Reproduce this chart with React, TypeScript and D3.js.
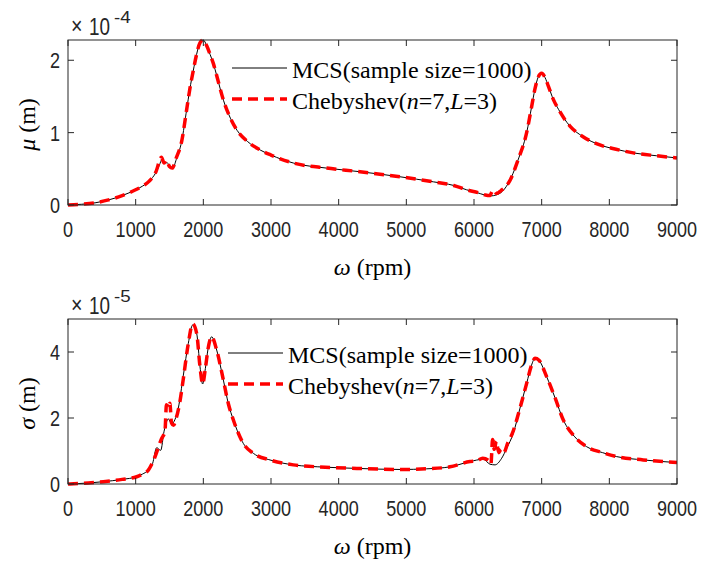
import React from "react";
import * as d3 from "d3";

// ---- Data (mu in 1e-4 m, sigma in 1e-5 m) ----
const omegaMuMCS = [0, 200, 400, 600, 800, 1000, 1100, 1200, 1300, 1350, 1390, 1430, 1470, 1510, 1550, 1600, 1680, 1754, 1800, 1850, 1900, 1950, 2000, 2050, 2100, 2150, 2200, 2300, 2400, 2500, 2650, 2840, 3000, 3330, 3820, 4315, 4906, 5400, 5700, 5891, 6050, 6150, 6236, 6335, 6450, 6550, 6650, 6778, 6850, 6900, 6950, 7000, 7050, 7100, 7172, 7250, 7418, 7600, 7861, 8100, 8354, 8700, 9000];
const muMCS = [0, 0.01, 0.03, 0.07, 0.13, 0.21, 0.26, 0.33, 0.45, 0.55, 0.63, 0.59, 0.58, 0.54, 0.51, 0.63, 0.88, 1.32, 1.6, 1.85, 2.08, 2.24, 2.28, 2.2, 2.08, 1.95, 1.78, 1.44, 1.2, 1.03, 0.88, 0.76, 0.69, 0.58, 0.51, 0.46, 0.39, 0.32, 0.27, 0.21, 0.17, 0.14, 0.125, 0.14, 0.22, 0.38, 0.62, 1.0, 1.35, 1.6, 1.77, 1.82, 1.76, 1.64, 1.46, 1.32, 1.09, 0.95, 0.83, 0.77, 0.72, 0.68, 0.65];

const omegaMuCheb = [0, 200, 400, 600, 800, 1000, 1100, 1200, 1300, 1380, 1420, 1455, 1500, 1540, 1600, 1680, 1754, 1800, 1850, 1900, 1950, 2000, 2050, 2100, 2150, 2200, 2300, 2400, 2500, 2650, 2840, 3000, 3330, 3820, 4315, 4906, 5400, 5700, 5891, 6064, 6163, 6230, 6286, 6335, 6400, 6532, 6650, 6778, 6850, 6900, 6950, 7000, 7050, 7100, 7172, 7250, 7418, 7600, 7861, 8100, 8354, 8700, 9000];
const muCheb = [0, 0.01, 0.03, 0.07, 0.13, 0.21, 0.26, 0.33, 0.46, 0.66, 0.58, 0.62, 0.53, 0.51, 0.65, 0.88, 1.32, 1.6, 1.85, 2.08, 2.24, 2.28, 2.2, 2.08, 1.95, 1.78, 1.44, 1.2, 1.03, 0.88, 0.76, 0.69, 0.58, 0.51, 0.46, 0.39, 0.32, 0.27, 0.21, 0.17, 0.14, 0.13, 0.21, 0.16, 0.2, 0.34, 0.62, 1.0, 1.35, 1.6, 1.77, 1.82, 1.76, 1.64, 1.46, 1.32, 1.09, 0.95, 0.83, 0.77, 0.72, 0.68, 0.65];

const omegaSigMCS = [0, 300, 522, 800, 1015, 1100, 1187, 1250, 1310, 1370, 1420, 1483, 1530, 1580, 1630, 1705, 1778, 1842, 1902, 1951, 1990, 2030, 2070, 2123, 2197, 2296, 2369, 2444, 2591, 2739, 3000, 3330, 3800, 4315, 4906, 5300, 5645, 5941, 6138, 6236, 6310, 6409, 6483, 6581, 6680, 6778, 6850, 6901, 6960, 7074, 7200, 7320, 7480, 7665, 7900, 8108, 8500, 9000];
const sigMCS = [0, 0.03, 0.07, 0.14, 0.22, 0.3, 0.42, 0.62, 1.1, 1.02, 1.6, 1.97, 1.82, 1.95, 2.3, 3.3, 4.26, 4.82, 4.56, 3.55, 3.03, 3.5, 4.1, 4.46, 4.06, 3.15, 2.44, 1.94, 1.23, 0.93, 0.72, 0.58, 0.51, 0.47, 0.44, 0.46, 0.52, 0.68, 0.75, 0.6, 0.58, 0.78, 1.08, 1.54, 2.3, 3.05, 3.6, 3.81, 3.75, 3.25, 2.6, 1.94, 1.45, 1.13, 0.95, 0.83, 0.73, 0.65];

const omegaSigCheb = [0, 300, 522, 800, 1015, 1100, 1187, 1261, 1384, 1433, 1455, 1480, 1505, 1530, 1560, 1600, 1650, 1705, 1778, 1842, 1902, 1951, 1990, 2030, 2070, 2123, 2197, 2296, 2369, 2444, 2591, 2739, 3000, 3330, 3800, 4315, 4906, 5300, 5645, 5941, 6040, 6128, 6212, 6250, 6275, 6300, 6330, 6365, 6400, 6440, 6500, 6560, 6680, 6778, 6850, 6901, 6960, 7074, 7200, 7320, 7480, 7665, 7900, 8108, 8500, 9000];
const sigCheb = [0, 0.03, 0.07, 0.14, 0.22, 0.3, 0.42, 0.7, 1.38, 1.6, 2.4, 2.3, 2.45, 1.85, 1.78, 2.0, 2.45, 3.2, 4.26, 4.85, 4.56, 3.55, 3.03, 3.5, 4.1, 4.46, 4.06, 3.15, 2.44, 1.94, 1.23, 0.93, 0.72, 0.58, 0.51, 0.47, 0.44, 0.46, 0.52, 0.68, 0.7, 0.78, 0.72, 0.6, 1.35, 1.05, 1.3, 0.95, 1.05, 0.95, 1.25, 1.5, 2.3, 3.05, 3.6, 3.81, 3.75, 3.25, 2.6, 1.94, 1.45, 1.13, 0.95, 0.83, 0.73, 0.65];

const xTicks = [0, 1000, 2000, 3000, 4000, 5000, 6000, 7000, 8000, 9000];
const muTicks = [0, 1, 2];
const sigTicks = [0, 2, 4];
const legendMCS = "MCS(sample size=1000)";

const W = 705;
const H = 561;
const AX_L = 68;
const AX_R = 677;
const TICK = 6;
const SANS = "'Liberation Sans', Arial, Helvetica, sans-serif";
const SERIF = "'Liberation Serif', 'Times New Roman', serif";
const AXCOL = "#262626";

function SansText({ x, y, anchor = "middle", size = 22, sx = 0.82, children }: any) {
  return (
    <g transform={`translate(${x},${y}) scale(${sx},1)`}>
      <text x={0} y={0} textAnchor={anchor} fontFamily={SANS} fontSize={size} fill={AXCOL}>
        {children}
      </text>
    </g>
  );
}

function Panel({ top, bottom, yMax, yTicks, exp, sym, xs1, ys1, xs2, ys2, legY, legX, id }: any) {
  const x = d3.scaleLinear().domain([0, 9000]).range([AX_L, AX_R]);
  const y = d3.scaleLinear().domain([0, yMax]).range([bottom, top]);
  const mk = (xs: number[], ys: number[]) =>
    d3
      .line<number>()
      .x((d) => x(d))
      .y((_, i) => y(ys[i]))
      .curve(d3.curveMonotoneX)(xs) as string;
  return (
    <g>
      <defs>
        <clipPath id={id}>
          <rect x={AX_L} y={top - 2} width={AX_R - AX_L} height={bottom - top + 4} />
        </clipPath>
      </defs>
      <g clipPath={`url(#${id})`}>
        <path d={mk(xs1, ys1)} fill="none" stroke="#000" strokeWidth={1} />
        <path d={mk(xs2, ys2)} fill="none" stroke="#ff0000" strokeWidth={3.5} strokeDasharray="10,6" />
      </g>
      <rect x={AX_L} y={top} width={AX_R - AX_L} height={bottom - top} fill="none" stroke={AXCOL} strokeWidth={1} />
      {xTicks.map((t) => (
        <g key={"xt" + t}>
          <line x1={x(t)} x2={x(t)} y1={bottom} y2={bottom - TICK} stroke={AXCOL} />
          <line x1={x(t)} x2={x(t)} y1={top} y2={top + TICK} stroke={AXCOL} />
          <SansText x={x(t)} y={bottom + 32}>{t}</SansText>
        </g>
      ))}
      {yTicks.map((t: number) => (
        <g key={"yt" + t}>
          <line x1={AX_L} x2={AX_L + TICK} y1={y(t)} y2={y(t)} stroke={AXCOL} />
          <line x1={AX_R} x2={AX_R - TICK} y1={y(t)} y2={y(t)} stroke={AXCOL} />
          <SansText x={60} y={y(t) + 8} anchor="end">{t}</SansText>
        </g>
      ))}
      {/* exponent */}
      <SansText x={71} y={top - 6} anchor="start" size={24}>
        {"\u00d7"}
      </SansText>
      <SansText x={89} y={top - 5} anchor="start" size={23}>
        {"10"}
      </SansText>
      <SansText x={114} y={top - 17} anchor="start" size={17} sx={1.1}>
        {exp}
      </SansText>
      {/* x label */}
      <text x={(AX_L + AX_R) / 2} y={bottom + 70} textAnchor="middle" fontFamily={SERIF} fontSize={24} fill="#000">
        <tspan fontStyle="italic">{"\u03c9"}</tspan>
        <tspan>{" (rpm)"}</tspan>
      </text>
      {/* y label */}
      <text
        transform={`translate(35,${(top + bottom) / 2 + 2}) rotate(-90)`}
        textAnchor="middle"
        fontFamily={SERIF}
        fontSize={24}
        fill="#000"
      >
        <tspan fontStyle="italic">{sym}</tspan>
        <tspan>{" (m)"}</tspan>
      </text>
      {/* legend */}
      <line x1={legX} x2={legX + 55} y1={legY} y2={legY} stroke="#000" strokeWidth={1} />
      <text x={legX + 60} y={legY + 10} fontFamily={SERIF} fontSize={24} fill="#000">
        {legendMCS}
      </text>
      <line x1={legX} x2={legX + 55} y1={legY + 31} y2={legY + 31} stroke="#ff0000" strokeWidth={3.5} strokeDasharray="10,6" />
      <text x={legX + 60} y={legY + 41} fontFamily={SERIF} fontSize={24} fill="#000">
        <tspan>Chebyshev(</tspan>
        <tspan fontStyle="italic">n</tspan>
        <tspan>=7,</tspan>
        <tspan fontStyle="italic">L</tspan>
        <tspan>=3)</tspan>
      </text>
    </g>
  );
}

export default function App() {
  return (
    <svg width={W} height={H} style={{ position: "absolute", left: 0, top: 0, background: "#fff" }}>
      <rect x={0} y={0} width={W} height={H} fill="#fff" />
      <Panel
        id="clipTop"
        top={40}
        bottom={205}
        yMax={2.28}
        yTicks={muTicks}
        exp="-4"
        sym={"\u03bc"}
        xs1={omegaMuMCS}
        ys1={muMCS}
        xs2={omegaMuCheb}
        ys2={muCheb}
        legX={232}
        legY={68}
      />
      <Panel
        id="clipBot"
        top={319}
        bottom={484}
        yMax={5}
        yTicks={sigTicks}
        exp="-5"
        sym={"\u03c3"}
        xs1={omegaSigMCS}
        ys1={sigMCS}
        xs2={omegaSigCheb}
        ys2={sigCheb}
        legX={228}
        legY={353}
      />
    </svg>
  );
}
